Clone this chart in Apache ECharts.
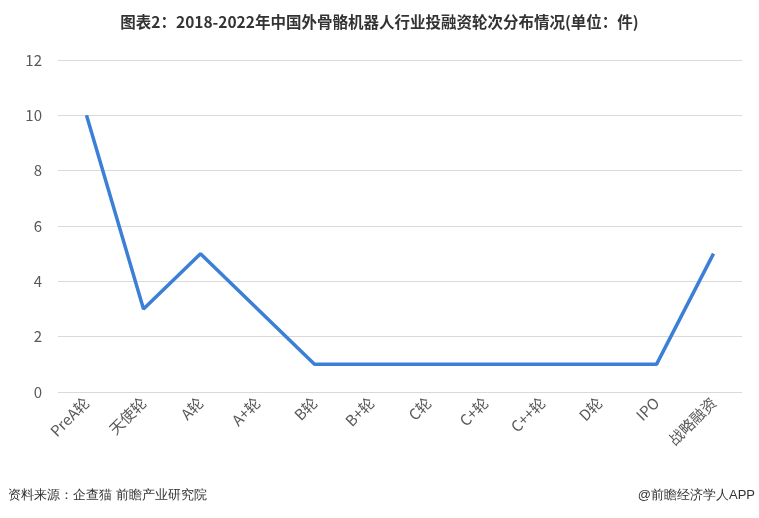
<!DOCTYPE html>
<html><head><meta charset="utf-8">
<script src="https://cdn.jsdelivr.net/npm/echarts@6/dist/echarts.min.js"></script>
<style>html,body{margin:0;padding:0;background:#fff}#c{width:759px;height:518px}</style>
</head><body><div id="c"></div>
<script>
const categories = ['PreA轮','天使轮','A轮','A+轮','B轮','B+轮','C轮','C+轮','C++轮','D轮','IPO','战略融资'];
const values = [10,3,5,3,1,1,1,1,1,1,1,5];
const yTicks = {min:0, max:12, interval:2};
const titleText = '图表2：2018-2022年中国外骨骼机器人行业投融资轮次分布情况(单位：件)';
const sourceText = '资料来源：企查猫 前瞻产业研究院';
const brandText = '@前瞻经济学人APP';

const chart = echarts.init(document.getElementById('c'));
chart.setOption({
  animation:false,
  backgroundColor:'#fff',
  title:{text:titleText,left:'center',top:9,textStyle:{fontSize:15.5,fontWeight:'bold',color:'#333',fontFamily:'"Noto Sans CJK SC", sans-serif'}},
  graphic:[
    {type:'text',left:8,top:489,style:{text:sourceText,fontSize:13,fill:'#333',font:'13px "Noto Sans CJK SC", sans-serif'}},
    {type:'text',right:4,top:489,style:{text:brandText,fontSize:13,fill:'#333',font:'13px "Noto Sans CJK SC", sans-serif'}}
  ],
  grid:{left:58,right:17,top:60,bottom:126},
  xAxis:{type:'category',data:categories,boundaryGap:true,
    axisLine:{show:false},axisTick:{show:false},
    axisLabel:{rotate:45,fontSize:15,color:'#595959',margin:8,interval:0,fontFamily:'"Noto Sans CJK SC", sans-serif'}},
  yAxis:{type:'value',min:yTicks.min,max:yTicks.max,interval:yTicks.interval,
    axisLine:{show:false},axisTick:{show:false},
    axisLabel:{fontSize:15,color:'#595959',margin:16,fontFamily:'"Noto Sans CJK SC", sans-serif'},
    splitLine:{lineStyle:{color:'#d9d9d9',width:1}}},
  series:[{type:'line',data:values,symbol:'none',lineStyle:{color:'#3b7fd6',width:3.5}}]
});
</script></body></html>
